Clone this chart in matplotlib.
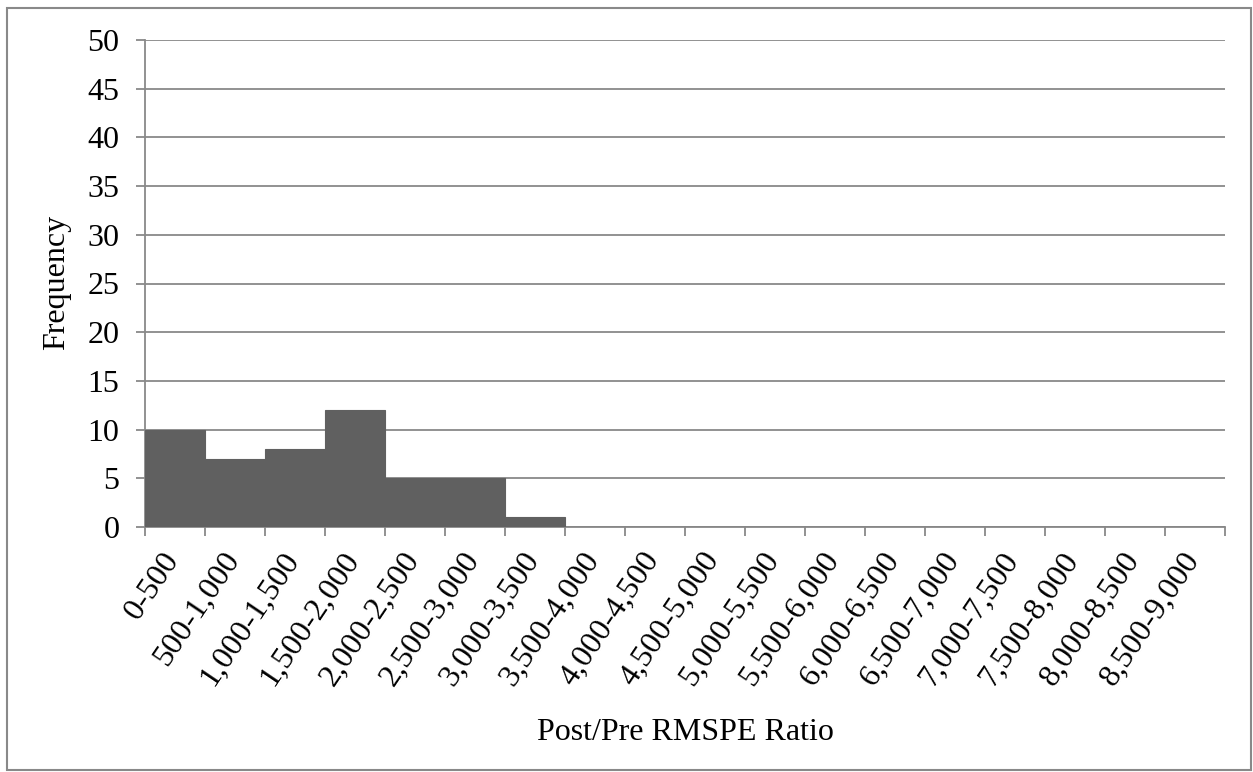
import matplotlib
matplotlib.use("Agg")
import matplotlib.pyplot as plt
from matplotlib.patches import Rectangle

# Histogram of the post/pre RMSPE ratio
bin_labels = ["0-500", "500-1,000", "1,000-1,500", "1,500-2,000", "2,000-2,500",
              "2,500-3,000", "3,000-3,500", "3,500-4,000", "4,000-4,500",
              "4,500-5,000", "5,000-5,500", "5,500-6,000", "6,000-6,500",
              "6,500-7,000", "7,000-7,500", "7,500-8,000", "8,000-8,500",
              "8,500-9,000"]
frequency = [10, 7, 8, 12, 5, 5, 1, 0, 0, 0, 0, 0, 0, 0, 0, 0, 0, 0]
y_ticks = [0, 5, 10, 15, 20, 25, 30, 35, 40, 45, 50]

plt.rcParams['font.family'] = ['Liberation Serif', 'DejaVu Serif']
W, H = 1253, 772
FS = 23
fig = plt.figure(figsize=(W / 100, H / 100), dpi=100)
ax = fig.add_axes([145 / W, 1 - 527 / H, (1225 - 145) / W, (527 - 40) / H])

grid_c = "#898989"
bar_c = "#606060"
x = list(range(len(frequency)))
ax.bar(x, frequency, width=1.0, align="edge", color=bar_c,
       edgecolor=bar_c, linewidth=0.8, zorder=3)

ax.set_xlim(0, len(frequency))
ax.set_ylim(0, 50)
ax.set_yticks(y_ticks)
ax.set_yticklabels([str(v) for v in y_ticks], fontsize=FS)
ax.yaxis.grid(True, color=grid_c, linewidth=1.3, zorder=0)
ax.set_axisbelow(True)

ax.set_xticks(range(len(frequency) + 1))
ax.set_xticklabels([""] * (len(frequency) + 1))
for i, lab in enumerate(bin_labels):
    ax.text(i + 0.27, -2.0, lab, rotation=56, ha="right", va="top",
            rotation_mode="anchor", fontsize=FS, transform=ax.transData)

for s in ["top", "right"]:
    ax.spines[s].set_visible(False)
for s in ["left", "bottom"]:
    ax.spines[s].set_color(grid_c)
    ax.spines[s].set_linewidth(1.3)
ax.tick_params(axis="both", colors=grid_c, width=1.3, length=6.5, labelcolor="black")
ax.tick_params(axis="y", pad=12)

fig.text(57 / W, 1 - 282 / H, "Frequency", rotation=90, ha="center", va="center", fontsize=FS)
fig.text(685 / W, 1 - 733 / H, "Post/Pre RMSPE Ratio", ha="center", va="center", fontsize=FS)

fig.patches.append(Rectangle((7 / W, 1 - 770 / H), (1251 - 7) / W, (770 - 8) / H,
                             transform=fig.transFigure, fill=False,
                             edgecolor=grid_c, linewidth=1.5))

fig.savefig("out.png", dpi=100)
